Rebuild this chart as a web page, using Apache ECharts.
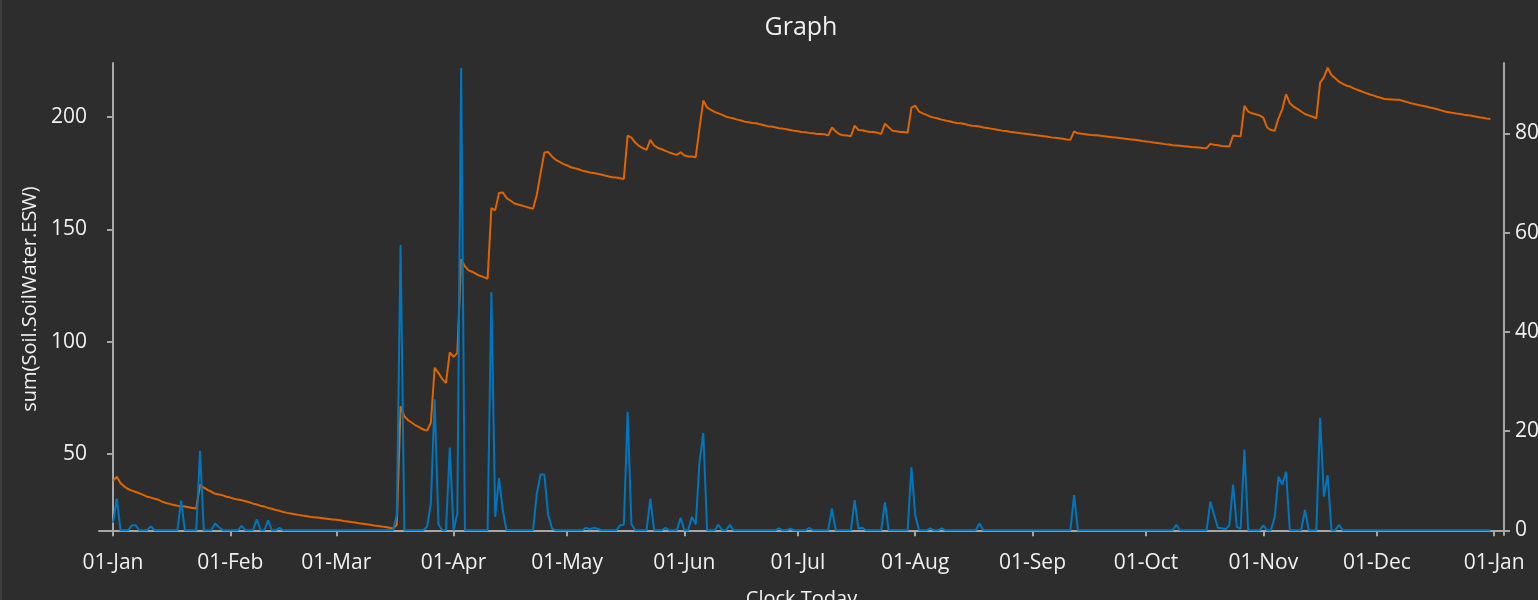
<!DOCTYPE html>
<html>
<head>
<meta charset="utf-8">
<title>Graph</title>
<script src="https://cdn.jsdelivr.net/npm/echarts@6/dist/echarts.min.js"></script>
<style>
  html, body { margin: 0; padding: 0; background: #2d2d2d; }
  #wrap { position: relative; width: 1538px; height: 600px; }
  #chart { width: 1538px; height: 600px; }
  #edge { position: absolute; left: 0; top: 0; width: 2px; height: 600px; background: #3e3e3e; }
</style>
</head>
<body>
<div id="wrap"><div id="chart"></div><div id="edge"></div></div>
<script>
// daily values, 01-Jan .. 31-Dec (one row per month)
var esw = [
  38.1, 39.9, 37.0, 35.5, 34.4, 33.7, 33.1, 32.5, 31.8, 31.0, 30.6, 30.1, 29.6, 28.8, 28.2, 27.8, 27.3, 27.0, 26.8, 26.6, 26.3, 26.0, 25.7, 36.3, 35.0, 34.0, 33.2, 32.3, 32.0, 31.6, 31.0,
  30.6, 30.1, 29.7, 29.4, 29.0, 28.5, 27.9, 27.5, 27.0, 26.6, 26.0, 25.6, 25.1, 24.7, 24.2, 23.8, 23.5, 23.2, 22.9, 22.6, 22.4, 22.1, 21.9, 21.7, 21.5, 21.3, 21.1, 20.9,
  20.7, 20.5, 20.2, 20.0, 19.7, 19.5, 19.2, 19.0, 18.7, 18.5, 18.2, 18.0, 17.7, 17.5, 17.2, 16.8, 18.5, 71.2, 66.8, 65.0, 63.9, 62.7, 61.8, 60.9, 60.4, 63.9, 88.3, 86.1, 83.4, 81.6, 95.2,
  93.2, 95.0, 136.7, 133.5, 131.7, 131.0, 130.1, 129.3, 128.7, 128.0, 159.4, 158.4, 166.1, 166.4, 163.9, 162.8, 161.6, 161.0, 160.6, 160.1, 159.6, 159.1, 165.3, 175.0, 184.2, 184.4, 182.4, 180.9, 180.0, 179.1,
  178.4, 177.6, 177.2, 176.7, 176.1, 175.7, 175.3, 175.0, 174.7, 174.4, 173.9, 173.5, 173.2, 173.0, 172.7, 172.4, 191.7, 190.8, 188.6, 187.1, 186.1, 185.3, 189.8, 187.3, 186.2, 185.6, 184.9, 184.2, 183.6, 183.1, 184.3,
  182.8, 182.4, 182.4, 182.1, 195.0, 207.3, 204.1, 203.1, 202.2, 201.6, 200.9, 200.1, 199.7, 199.3, 198.8, 198.4, 197.9, 197.6, 197.3, 197.2, 196.7, 196.3, 195.9, 195.7, 195.4, 195.0, 194.8, 194.5, 194.2, 193.8,
  193.6, 193.3, 193.2, 192.9, 192.7, 192.4, 192.4, 192.3, 191.8, 195.3, 193.5, 192.3, 191.8, 191.7, 191.4, 196.1, 194.2, 194.1, 193.6, 193.3, 193.3, 193.0, 192.4, 197.0, 195.4, 193.8, 193.6, 193.3, 193.3, 193.0, 204.1,
  205.0, 202.4, 201.6, 200.9, 200.1, 199.7, 199.3, 198.8, 198.4, 198.1, 197.6, 197.3, 197.2, 196.9, 196.4, 196.1, 196.0, 195.7, 195.3, 195.1, 194.8, 194.5, 194.2, 193.9, 193.7, 193.4, 193.2, 193.0, 192.7, 192.5, 192.3,
  192.1, 191.8, 191.6, 191.4, 191.2, 190.9, 190.7, 190.5, 190.3, 190.0, 189.8, 193.6, 192.7, 192.5, 192.3, 192.1, 191.9, 191.8, 191.6, 191.4, 191.2, 191.0, 190.8, 190.6, 190.4, 190.2, 190.0, 189.8, 189.6, 189.3,
  189.1, 188.9, 188.6, 188.4, 188.2, 187.9, 187.7, 187.4, 187.3, 187.2, 187.0, 186.8, 186.6, 186.5, 186.4, 186.2, 186.1, 188.0, 187.6, 187.4, 187.1, 187.0, 186.8, 191.7, 191.5, 191.4, 204.9, 202.4, 201.6, 201.2, 200.7,
  199.7, 195.3, 194.2, 193.8, 199.4, 203.4, 210.1, 206.1, 204.6, 203.6, 202.4, 201.3, 200.7, 200.1, 199.4, 215.3, 217.6, 221.9, 218.7, 217.2, 215.7, 214.7, 213.9, 213.5, 212.6, 212.0, 211.3, 210.7, 210.1, 209.6,
  209.0, 208.5, 208.0, 207.9, 207.8, 207.7, 207.6, 207.1, 206.6, 206.1, 205.7, 205.3, 205.0, 204.6, 204.2, 203.9, 203.4, 202.9, 202.4, 202.1, 201.8, 201.5, 201.3, 201.0, 200.8, 200.5, 200.2, 199.9, 199.6, 199.3, 199.1
];

var rain = [
  1.5, 6.4, 0, 0, 0, 1.0, 1.0, 0, 0, 0, 0.8, 0, 0, 0, 0, 0, 0, 0, 6.0, 0, 0, 0, 0, 16.0, 0, 0, 0, 1.4, 0.6, 0, 0,
  0, 0, 0, 0.9, 0, 0, 0, 2.2, 0, 0, 2.0, 0, 0, 0.5, 0, 0, 0, 0, 0, 0, 0, 0, 0, 0, 0, 0, 0, 0,
  0, 0, 0, 0, 0, 0, 0, 0, 0, 0, 0, 0, 0, 0, 0, 0, 3.1, 57.5, 0, 0, 0, 0, 0, 0, 0.7, 5.4, 26.4, 1.2, 0, 0, 16.7,
  0, 3.4, 93.2, 0, 0, 0, 0, 0, 0, 0, 48.0, 2.7, 10.5, 4.1, 0, 0, 0, 0, 0, 0, 0, 0, 7.4, 11.3, 11.2, 3.1, 0.4, 0, 0, 0,
  0, 0, 0, 0, 0, 0.5, 0.2, 0.5, 0.3, 0, 0, 0, 0, 0, 1.0, 1.1, 23.9, 1.2, 0, 0, 0, 0, 6.4, 0, 0, 0, 0.5, 0, 0, 0, 2.5,
  0, 0, 2.7, 1.2, 13.8, 19.6, 0, 0, 0, 1.1, 0, 0, 1.1, 0, 0, 0, 0, 0, 0, 0, 0, 0, 0, 0, 0, 0.4, 0, 0, 0.3, 0,
  0, 0, 0, 0.5, 0, 0, 0, 0, 0, 4.4, 0, 0, 0, 0, 0, 6.1, 0.3, 0.5, 0, 0, 0, 0, 0, 5.6, 0, 0, 0, 0, 0, 0, 12.7,
  3.1, 0, 0, 0, 0.4, 0, 0, 0.4, 0, 0, 0, 0, 0, 0, 0, 0, 0, 1.4, 0, 0, 0, 0, 0, 0, 0, 0, 0, 0, 0, 0, 0,
  0, 0, 0, 0, 0, 0, 0, 0, 0, 0, 0, 7.1, 0, 0, 0, 0, 0, 0, 0, 0, 0, 0, 0, 0, 0, 0, 0, 0, 0, 0,
  0, 0, 0, 0, 0, 0, 0, 0, 1.1, 0, 0, 0, 0, 0, 0, 0, 0, 5.8, 3.1, 0.5, 0.4, 0.2, 1.0, 9.2, 0.7, 0.3, 16.3, 0, 0, 0, 0,
  1.0, 0, 0, 2.6, 10.8, 9.2, 11.8, 0, 0, 0, 0, 4.1, 0, 0, 0, 22.7, 6.8, 11.1, 0, 0, 1.1, 0, 0, 0, 0, 0, 0, 0, 0, 0,
  0, 0, 0, 0, 0, 0, 0, 0, 0, 0, 0, 0, 0, 0, 0, 0, 0, 0, 0, 0, 0, 0, 0, 0, 0, 0, 0, 0, 0, 0, 0
];

var tickLabels = ['01-Jan', '01-Feb', '01-Mar', '01-Apr', '01-May', '01-Jun', '01-Jul',
  '01-Aug', '01-Sep', '01-Oct', '01-Nov', '01-Dec', '01-Jan'];
var leftTicks = [50, 100, 150, 200];
var rightTicks = [0, 20, 40, 60, 80];

// x axis counts days from 01-Jan
var DAY = 86400000;
var start = Date.UTC(2019, 0, 1);
var tickValues = tickLabels.map(function (l, i) { return (Date.UTC(2019, i, 1) - start) / DAY; });

function toPairs(arr) {
  return arr.map(function (v, i) { return [i, v]; });
}

var font = '"Open Sans", "Noto Sans", sans-serif';
var textColor = '#f0f0f0';
var axisColor = '#a6a6a6';

var chart = echarts.init(document.getElementById('chart'));
chart.setOption({
  backgroundColor: '#2d2d2d',
  animation: false,
  textStyle: { fontFamily: font },
  title: {
    text: 'Graph',
    left: 796,
    top: 10,
    textAlign: 'center',
    textStyle: { color: textColor, fontSize: 25, fontWeight: 'normal', fontFamily: font }
  },
  grid: { left: 99, right: 34, top: 63, bottom: 65, containLabel: false, outerBoundsMode: 'none' },
  xAxis: {
    type: 'value',
    min: -3.7,
    max: 367.6,
    name: 'Clock.Today',
    nameLocation: 'middle',
    nameGap: 54,
    nameTextStyle: { color: textColor, fontSize: 20, fontFamily: font },
    axisLine: { lineStyle: { color: axisColor, width: 2 } },
    axisTick: { customValues: tickValues, length: 6, lineStyle: { color: axisColor, width: 2 } },
    axisLabel: {
      customValues: tickValues,
      color: textColor,
      fontSize: 21,
      fontFamily: font,
      margin: 18,
      formatter: function (v) {
        var i = tickValues.indexOf(v);
        return i >= 0 ? tickLabels[i] : '';
      }
    },
    splitLine: { show: false }
  },
  yAxis: [{
    type: 'value',
    position: 'left',
    min: 13.95,
    max: 224,
    name: 'sum(Soil.SoilWater.ESW)',
    nameLocation: 'middle',
    nameGap: 50,
    nameTextStyle: { color: textColor, fontSize: 20, fontFamily: font },
    axisLine: { show: true, lineStyle: { color: axisColor, width: 2 } },
    axisTick: { show: true, customValues: leftTicks, length: 6, lineStyle: { color: axisColor, width: 2 } },
    axisLabel: { customValues: leftTicks, color: textColor, fontSize: 21, fontFamily: font, margin: 12 },
    splitLine: { show: false }
  }, {
    type: 'value',
    position: 'right',
    min: -0.95,
    max: 94.2,
    axisLine: { show: true, lineStyle: { color: axisColor, width: 2 } },
    axisTick: { show: true, customValues: rightTicks, length: 6, lineStyle: { color: axisColor, width: 2 } },
    axisLabel: { customValues: rightTicks, color: textColor, fontSize: 21, fontFamily: font, margin: 11 },
    splitLine: { show: false }
  }],
  series: [{
    name: 'ESW',
    type: 'line',
    yAxisIndex: 0,
    data: toPairs(esw),
    showSymbol: false,
    lineStyle: { color: '#e06400', width: 2 },
    itemStyle: { color: '#e06400' }
  }, {
    name: 'Rain',
    type: 'line',
    yAxisIndex: 1,
    data: toPairs(rain),
    showSymbol: false,
    lineStyle: { color: '#0076be', width: 2 },
    itemStyle: { color: '#0076be' }
  }]
});
</script>
</body>
</html>
